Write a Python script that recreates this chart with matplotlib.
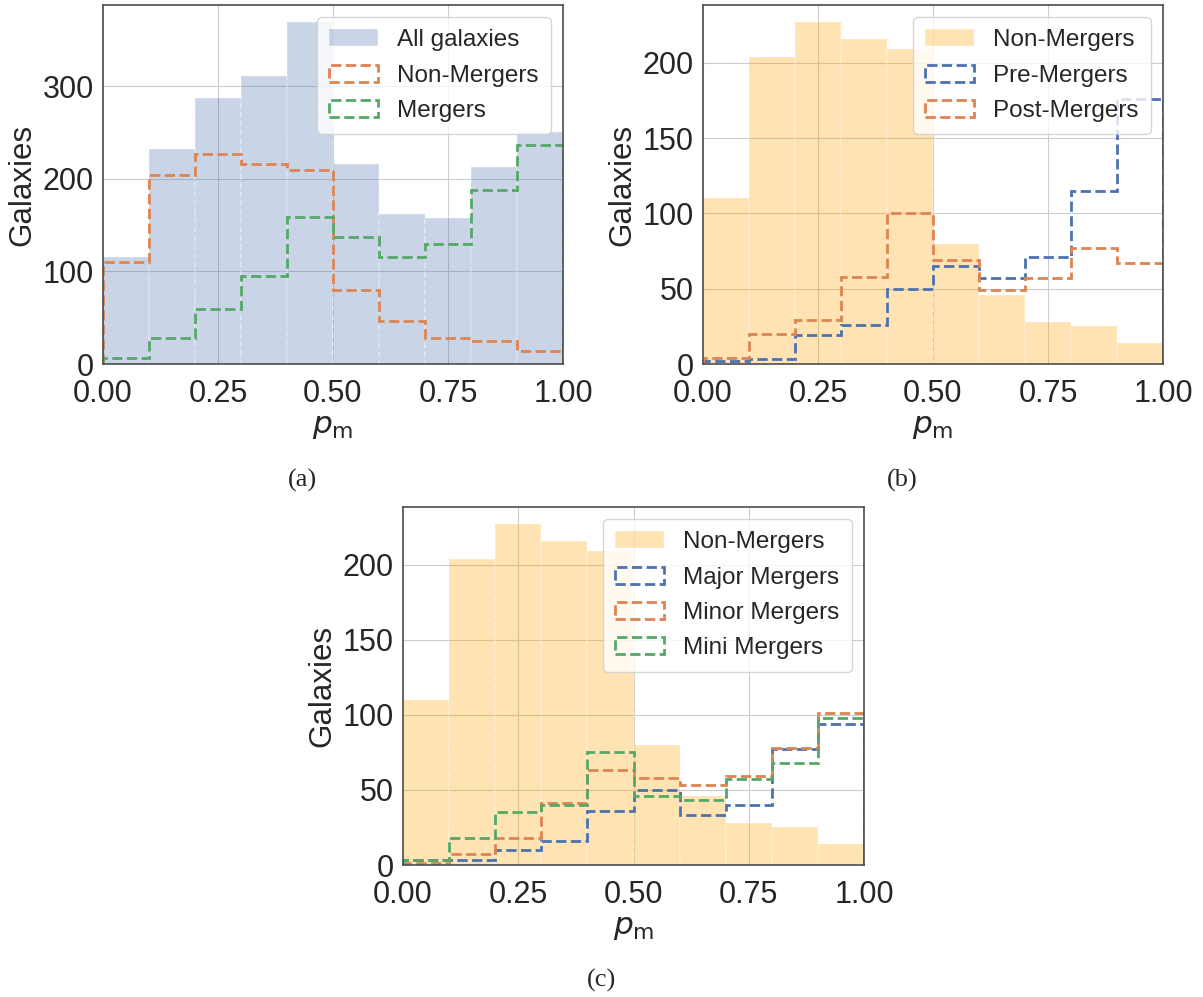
import numpy as np
import matplotlib
matplotlib.use('Agg')
import matplotlib.pyplot as plt
import seaborn as sns

# bins in p_m
edges = np.linspace(0, 1, 11)
centres = 0.5 * (edges[:-1] + edges[1:])

# counts
all_galaxies = [116, 232, 287, 311, 369, 216, 162, 158, 213, 250]
non_mergers = [110, 204, 227, 216, 209, 80, 46, 28, 25, 14]
mergers = [6, 28, 59, 95, 159, 137, 116, 130, 188, 236]

pre_mergers = [2, 3, 19, 26, 50, 65, 57, 71, 115, 176]
post_mergers = [4, 20, 29, 58, 100, 69, 49, 57, 77, 67]

major_mergers = [3, 3, 10, 16, 36, 50, 33, 40, 77, 94]
minor_mergers = [1, 7, 18, 41, 63, 58, 53, 59, 78, 101]
mini_mergers = [3, 18, 35, 40, 75, 46, 43, 57, 68, 98]

sns.set_style('whitegrid')
plt.rcParams['font.family'] = ['Liberation Sans', 'DejaVu Sans']
plt.rcParams['axes.edgecolor'] = '0.3'
plt.rcParams['axes.linewidth'] = 1.2

blue, orange, green = '#4C72B0', '#DD8452', '#55A868'

fig = plt.figure(figsize=(12.03, 9.97), dpi=100)
W, H = 1203, 997


def make_ax(left, top, right, bottom):
    return fig.add_axes([left / W, 1 - bottom / H, (right - left) / W, (bottom - top) / H])


def style(ax):
    ax.set_xlim(0, 1)
    ax.set_xticks([0, 0.25, 0.5, 0.75, 1.0])
    ax.set_xticklabels(['0.00', '0.25', '0.50', '0.75', '1.00'])
    ax.tick_params(axis='y', labelsize=22, pad=3)
    ax.tick_params(axis='x', labelsize=22, pad=7)
    ax.set_xlabel(r'$p_\mathrm{m}$', fontsize=22.5, labelpad=2)
    ax.set_ylabel('Galaxies', fontsize=22.5, labelpad=4)
    ax.legend(loc='upper right', fontsize=17.5, handlelength=2.0, borderpad=0.5,
              labelspacing=0.55, handletextpad=0.8)


def filled(ax, vals, color, label):
    ax.hist(centres, bins=edges, weights=vals, color=color, alpha=0.3,
            edgecolor='white', ls='--', lw=1.2, label=label)


def step(ax, vals, color, label):
    ax.hist(centres, bins=edges, weights=vals, histtype='step', color=color,
            ls='--', lw=2, label=label)


# (a)
ax = make_ax(103, 5, 563, 364)
filled(ax, all_galaxies, blue, 'All galaxies')
step(ax, non_mergers, orange, 'Non-Mergers')
step(ax, mergers, green, 'Mergers')
ax.set_yticks([0, 100, 200, 300])
style(ax)

# (b)
ax = make_ax(703, 5, 1163, 364)
filled(ax, non_mergers, 'orange', 'Non-Mergers')
step(ax, pre_mergers, blue, 'Pre-Mergers')
step(ax, post_mergers, orange, 'Post-Mergers')
ax.set_yticks([0, 50, 100, 150, 200])
style(ax)

# (c)
ax = make_ax(403, 507, 864, 865)
filled(ax, non_mergers, 'orange', 'Non-Mergers')
step(ax, major_mergers, blue, 'Major Mergers')
step(ax, minor_mergers, orange, 'Minor Mergers')
step(ax, mini_mergers, green, 'Mini Mergers')
ax.set_yticks([0, 50, 100, 150, 200])
style(ax)

# subfigure captions
for x, y, s in [(302, 480, '(a)'), (902, 480, '(b)'), (602, 980, '(c)')]:
    fig.text(x / W, 1 - y / H, s, ha='center', va='center', fontsize=19,
             family=['Liberation Serif', 'DejaVu Serif'])

plt.savefig('out.png', dpi=100)
